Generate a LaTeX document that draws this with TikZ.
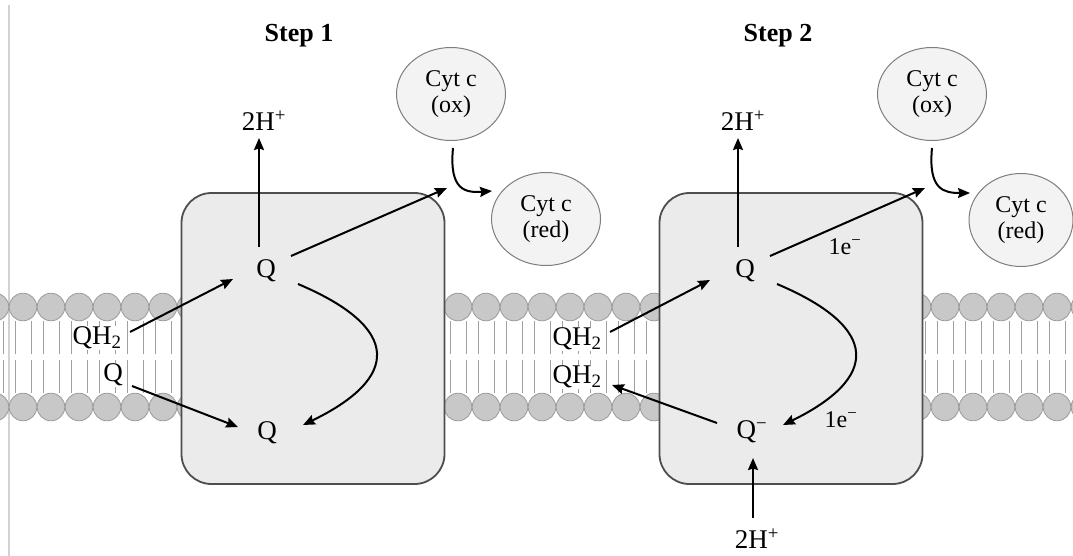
\documentclass[tikz,border=0pt]{standalone}
\usepackage{fontspec}
\setmainfont{Liberation Serif}
\usetikzlibrary{arrows.meta,shapes.geometric,calc}
\definecolor{boxfill}{HTML}{EBEBEB}
\definecolor{boxline}{HTML}{4E4E4E}
\definecolor{cytfill}{HTML}{F3F3F3}
\definecolor{cytline}{HTML}{7E7E7E}
\definecolor{headfill}{HTML}{C8C8C8}
\definecolor{headline}{HTML}{9B9B9B}
\definecolor{tailcol}{HTML}{A0A0A0}
\definecolor{edgecol}{HTML}{D2D2D2}
\tikzset{
  lbl/.style={font=\fontsize{27}{30}\selectfont, inner sep=0pt},
  mlbl/.style={lbl, fill=white, inner sep=1pt},
  steplbl/.style={font=\fontsize{26}{30}\selectfont\bfseries, inner sep=0pt},
  elbl/.style={font=\fontsize{24}{27}\selectfont, inner sep=0pt},
  cyt/.style={ellipse, draw=cytline, fill=cytfill, line width=1pt,
    minimum width=109pt, minimum height=93pt, inner sep=0pt, align=center,
    font=\fontsize{24}{26}\selectfont},
  complex/.style={draw=boxline, fill=boxfill, line width=1.8pt,
    rounded corners=30pt, minimum width=263pt, minimum height=291pt},
  arr/.style={line width=2pt, -{Stealth[length=12pt,width=10pt,inset=1.5pt]}},
  head/.style={draw=headline, fill=headfill, line width=0.8pt},
  tail/.style={draw=tailcol, line width=1pt}
}
% one lipid of the bilayer: two heads and their paired tails
\newcommand{\lipidpair}[1]{%
  \draw[tail] (#1-8,321) -- (#1-8,354) (#1+8,321) -- (#1+8,354)
              (#1-8,360) -- (#1-8,393) (#1+8,360) -- (#1+8,393);
  \draw[head] (#1,307) circle (13.8);
  \draw[head] (#1,407) circle (13.8);}
\begin{document}
\begin{tikzpicture}[x=1pt,y=-1pt]
\useasboundingbox (0,0) rectangle (1073,556);
\fill[white] (0,0) rectangle (1073,556);
\draw[edgecol, line width=1.2pt] (9,5) -- (9,556);

% membrane bilayer
\foreach \k in {0,...,7} {\pgfmathsetmacro{\hx}{-5+28*\k}\lipidpair{\hx}}
\foreach \k in {-1,...,8} {\pgfmathsetmacro{\hx}{458+28*\k}\lipidpair{\hx}}
\foreach \k in {-1,...,5} {\pgfmathsetmacro{\hx}{945+28*\k}\lipidpair{\hx}}

% complexes
\node[complex] (cplx1) at (313,338.5) {};
\node[complex] (cplx2) at (791,338.5) {};

% step 1
\node[steplbl] (s1) at (299,36) {Step 1};
\node[cyt] (ox1) at (451,94) {Cyt c\\(ox)};
\node[cyt] (red1) at (546,219) {Cyt c\\(red)};
\node[lbl] (h1) at (264,121) {2H\textsuperscript{+}};
\node[lbl] (q1) at (266,271) {Q};
\node[lbl] (q1b) at (267,433) {Q};
\node[mlbl] (qh1) at (97,338) {QH\textsubscript{2}};
\node[mlbl] (qa) at (113,375) {Q};

\draw[arr] ($(q1)+(-7,-24)$) -- ($(h1)+(-5,17)$);
\draw[arr] ($(q1)+(25,-15)$) -- ($(ox1)+(-4,94)$);
\draw[arr] ($(qh1)+(33,-6)$) -- ($(q1)+(-33,8)$);
\draw[arr] ($(qa)+(19,11)$) -- ($(q1b)+(-29,-6)$);
\draw[arr] ($(q1)+(32,13)$) .. controls ($(q1)+(136,57)$) and ($(q1)+(134,107)$) .. ($(q1b)+(36,-8)$);
\draw[arr] ($(ox1)+(2,54)$) .. controls ($(ox1)+(-2,96)$) and ($(ox1)+(14,99)$) .. ($(red1)+(-54,-28)$);

% step 2
\node[steplbl] (s2) at (778,36) {Step 2};
\node[cyt] (ox2) at (932,94) {Cyt c\\(ox)};
\node[cyt, minimum width=104pt] (red2) at (1021,220) {Cyt c\\(red)};
\node[lbl] (h2) at (743,121) {2H\textsuperscript{+}};
\node[lbl] (q2) at (745,271) {Q};
\node[lbl] (qm) at (752,432) {Q\textsuperscript{−}};
\node[mlbl] (qh2a) at (577,339) {QH\textsubscript{2}};
\node[mlbl] (qh2b) at (577,377) {QH\textsubscript{2}};
\node[lbl] (h3) at (757,539) {2H\textsuperscript{+}};
\node[elbl] (e1) at (845,247) {1e\textsuperscript{−}};
\node[elbl] (e2) at (841,420) {1e\textsuperscript{−}};

\draw[arr] ($(q2)+(-7,-24)$) -- ($(h2)+(-5,17)$);
\draw[arr] ($(q2)+(25,-15)$) -- ($(ox2)+(-7,94)$);
\draw[arr] ($(qh2a)+(33,-7)$) -- ($(q2)+(-35,9)$);
\draw[arr] ($(qm)+(-35,-9)$) -- ($(qh2b)+(35,8)$);
\draw[arr] ($(q2)+(32,13)$) .. controls ($(q2)+(136,57)$) and ($(q2)+(134,107)$) .. ($(qm)+(31,-7)$);
\draw[arr] ($(h3)+(-4,-21)$) -- ($(qm)+(1,26)$);
\draw[arr] ($(ox2)+(0,54)$) .. controls ($(ox2)+(-4,96)$) and ($(ox2)+(12,99)$) .. ($(red2)+(-51,-27)$);
\end{tikzpicture}
\end{document}
